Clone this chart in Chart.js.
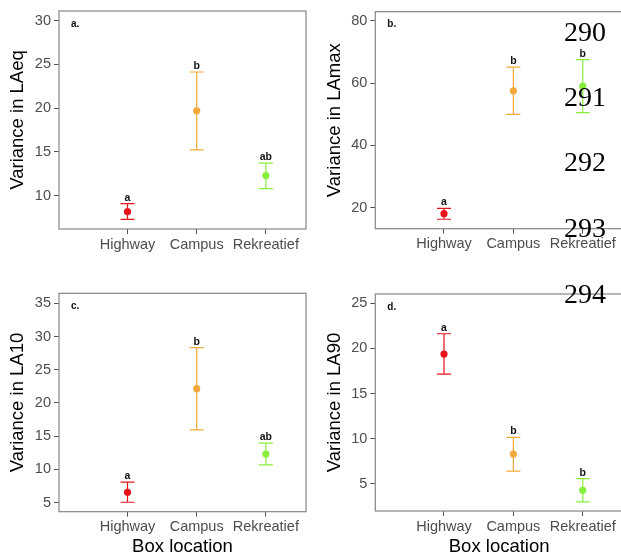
<!DOCTYPE html>
<html>
<head>
<meta charset="utf-8">
<script src="https://cdn.jsdelivr.net/npm/chart.js@4.4.1/dist/chart.umd.min.js"></script>
<style>
  html, body { margin: 0; padding: 0; background: #fff; }
  #page { position: relative; width: 621px; height: 555px; overflow: hidden; background: #fff; }
  .panel { position: absolute; }
  .lineno { position: absolute; right: 15px; font-family: "Liberation Serif", serif; font-size: 28px; line-height: 28px; color: #000; z-index: 5; }
</style>
</head>
<body>
<div id="page">
  <div class="panel" style="left:0;top:0"><canvas id="chartA" width="310" height="260"></canvas></div>
  <div class="panel" style="left:310px;top:0"><canvas id="chartB" width="320" height="260"></canvas></div>
  <div class="panel" style="left:0;top:260px"><canvas id="chartC" width="310" height="300"></canvas></div>
  <div class="panel" style="left:310px;top:260px"><canvas id="chartD" width="320" height="300"></canvas></div>
  <div class="lineno" style="top:17.6px">290</div>
  <div class="lineno" style="top:82.6px">291</div>
  <div class="lineno" style="top:148px">292</div>
  <div class="lineno" style="top:213.6px">293</div>
  <div class="lineno" style="top:279.6px">294</div>
</div>
<script>
// ---------- DATA ----------

const categories = ["Highway", "Campus", "Rekreatief"];

// a. LAeq
const laeqMean = [8.17, 19.69, 12.29];
const laeqLow = [7.3, 15.23, 10.8];
const laeqHigh = [9.08, 24.13, 13.71];
const laeqLetters = ["a", "b", "ab"];
const laeqTicks = [10, 15, 20, 25, 30];

// b. LAmax
const lamaxMean = [18.07, 57.5, 59.0];
const lamaxLow = [16.3, 49.96, 50.5];
const lamaxHigh = [19.8, 65.1, 67.5];
const lamaxLetters = ["a", "b", "b"];
const lamaxTicks = [20, 40, 60, 80];

// c. LA10
const la10Mean = [6.57, 22.15, 12.32];
const la10Low = [5.06, 15.96, 10.7];
const la10High = [8.08, 28.34, 13.96];
const la10Letters = ["a", "b", "ab"];
const la10Ticks = [5, 10, 15, 20, 25, 30, 35];

// d. LA90
const la90Mean = [19.38, 8.31, 4.3];
const la90Low = [17.16, 6.43, 3.01];
const la90High = [21.63, 10.15, 5.59];
const la90Letters = ["a", "b", "b"];
const la90Ticks = [5, 10, 15, 20, 25];

// ---------- STYLE ----------

const pointColors = ["#e8131b", "#f2a93b", "#88ee3c"];
const FONT = '"Liberation Sans", Arial, sans-serif';

// error bars, significance letters, panel border and tag
const errorBarPlugin = {
  id: "errorBars",
  beforeDatasetsDraw(chart) {
    const ctx = chart.ctx;
    const xs = chart.scales.x, ys = chart.scales.y;
    const ds = chart.data.datasets[0];
    ctx.save();
    ds.data.forEach((pt, i) => {
      const x = xs.getPixelForValue(pt.x);
      const yl = ys.getPixelForValue(ds.low[i]);
      const yh = ys.getPixelForValue(ds.high[i]);
      ctx.strokeStyle = pointColors[i];
      ctx.lineWidth = 1.2;
      ctx.beginPath();
      ctx.moveTo(x, yl); ctx.lineTo(x, yh);
      ctx.moveTo(x - 7, yl); ctx.lineTo(x + 7, yl);
      ctx.moveTo(x - 7, yh); ctx.lineTo(x + 7, yh);
      ctx.stroke();
      ctx.fillStyle = "#111";
      ctx.font = "bold 10.5px " + FONT;
      ctx.textAlign = "center";
      ctx.textBaseline = "alphabetic";
      ctx.fillText(ds.letters[i], x, yh - 3);
    });
    ctx.restore();
  },
  afterDraw(chart) {
    const ctx = chart.ctx;
    const a = chart.chartArea;
    ctx.save();
    ctx.strokeStyle = "#858585";
    ctx.lineWidth = 1.2;
    ctx.strokeRect(a.left, a.top, a.right - a.left, a.bottom - a.top);
    ctx.fillStyle = "#111";
    ctx.font = "bold 10px " + FONT;
    ctx.textAlign = "left";
    ctx.textBaseline = "middle";
    ctx.fillText(chart.options.plugins.errorBars.tag, a.left + 12, a.top + 13);
    ctx.restore();
  }
};

function makePanel(id, p) {
  return new Chart(document.getElementById(id), {
    type: "scatter",
    data: {
      datasets: [{
        data: p.mean.map((v, i) => ({ x: i + 1, y: v })),
        low: p.low,
        high: p.high,
        letters: p.letters,
        pointRadius: 3.6,
        pointBackgroundColor: pointColors,
        pointBorderWidth: 0
      }]
    },
    options: {
      responsive: false,
      animation: false,
      layout: { padding: p.pad },
      plugins: {
        legend: { display: false },
        tooltip: { enabled: false },
        errorBars: { tag: p.tag }
      },
      scales: {
        x: {
          type: "linear",
          min: 0.01,
          max: 3.58,
          afterBuildTicks: s => { s.ticks = [1, 2, 3].map(v => ({ value: v })); },
          afterFit: s => { s.height = p.xHeight; s.paddingLeft = 0; s.paddingRight = 0; },
          ticks: {
            callback: v => categories[v - 1],
            color: "#4d4d4d",
            font: { family: FONT, size: 14.5 },
            padding: 2,
            maxRotation: 0,
            autoSkip: false
          },
          grid: { drawOnChartArea: false, drawTicks: true, tickLength: 5, color: "#555" },
          border: { display: false },
          title: {
            display: p.xTitle,
            text: "Box location",
            color: "#000",
            font: { family: FONT, size: 18.5, lineHeight: 1 },
            padding: { top: 0, bottom: 4 }
          }
        },
        y: {
          min: p.yMin,
          max: p.yMax,
          afterBuildTicks: s => { s.ticks = p.yTicks.map(v => ({ value: v })); },
          afterFit: s => { s.width = p.yWidth; s.paddingTop = 0; s.paddingBottom = 0; },
          ticks: {
            color: "#4d4d4d",
            font: { family: FONT, size: 14.5 },
            padding: 3
          },
          grid: { drawOnChartArea: false, drawTicks: true, tickLength: 5, color: "#555" },
          border: { display: false },
          title: {
            display: true,
            text: p.yTitle,
            color: "#000",
            font: { family: FONT, size: 18.5, lineHeight: 1.2 },
            padding: { top: p.yTitlePad, bottom: 0 }
          }
        }
      }
    },
    plugins: [errorBarPlugin]
  });
}

makePanel("chartA", {
  mean: laeqMean, low: laeqLow, high: laeqHigh, letters: laeqLetters,
  yMin: 6.19, yMax: 31.1, yTicks: laeqTicks, yTitle: "Variance in LAeq", tag: "a.",
  pad: { left: 0, top: 11, right: 3, bottom: 0 }, yWidth: 59, xHeight: 31,
  yTitlePad: 7, xTitle: false
});

makePanel("chartB", {
  mean: lamaxMean, low: lamaxLow, high: lamaxHigh, letters: lamaxLetters,
  yMin: 13.26, yMax: 82.9, yTicks: lamaxTicks, yTitle: "Variance in LAmax", tag: "b.",
  pad: { left: 0, top: 11.7, right: 7, bottom: 0 }, yWidth: 65.3, xHeight: 31.3,
  yTitlePad: 14, xTitle: false
});

makePanel("chartC", {
  mean: la10Mean, low: la10Low, high: la10High, letters: la10Letters,
  yMin: 3.64, yMax: 36.5, yTicks: la10Ticks, yTitle: "Variance in LA10", tag: "c.",
  pad: { left: 0, top: 33.3, right: 3, bottom: 0 }, yWidth: 59, xHeight: 48.3,
  yTitlePad: 7, xTitle: true
});

makePanel("chartD", {
  mean: la90Mean, low: la90Low, high: la90High, letters: la90Letters,
  yMin: 2.01, yMax: 26.03, yTicks: la90Ticks, yTitle: "Variance in LA90", tag: "d.",
  pad: { left: 0, top: 34, right: 7, bottom: 0 }, yWidth: 65.3, xHeight: 49,
  yTitlePad: 14, xTitle: true
});
</script>
</body>
</html>
